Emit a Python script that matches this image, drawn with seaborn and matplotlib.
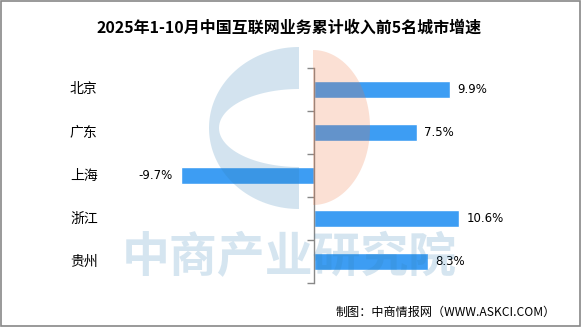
import matplotlib
matplotlib.use("Agg")
import matplotlib.pyplot as plt
import matplotlib.patches as mpatches
import matplotlib.transforms as mtrans
import numpy as np
import seaborn as sns
import pandas as pd

sns.set_theme(style="white")
plt.rcParams['font.family'] = ['Noto Sans CJK SC', 'DejaVu Sans']

cities = ["北京", "广东", "上海", "浙江", "贵州"]
growth = [9.9, 7.5, -9.7, 10.6, 8.3]
title = "2025年1-10月中国互联网业务累计收入前5名城市增速"
source = "制图：中商情报网（WWW.ASKCI.COM）"
watermark = "中商产业研究院"

df = pd.DataFrame({"city": cities, "growth": growth})

W, H = 581, 327
fig = plt.figure(figsize=(W / 100, H / 100), dpi=100)
fig.patch.set_facecolor("white")

ax = fig.add_axes([108.5 / W, 1 - 283 / H, 411 / W, 215 / H])
sns.barplot(data=df, x="growth", y="city", orient="h", color="#3d9df3",
            saturation=1, width=0.4, ax=ax, zorder=2)
ax.set_xlim(-15, 15)
ax.set_ylim(4.5, -0.5)
for s in ["top", "right", "bottom"]:
    ax.spines[s].set_visible(False)
ax.spines["left"].set_position(("data", 0))
ax.spines["left"].set_color("#888888")
ax.spines["left"].set_linewidth(1.0)
ax.set_xticks([])
ax.set_yticks([-0.5 + i for i in range(6)])
ax.set_yticklabels([])
ax.tick_params(axis="y", left=True, length=5, width=1, color="#888888", direction="out")
ax.set_xlabel("")
ax.set_ylabel("")
ax.patch.set_alpha(0)

trans = mtrans.blended_transform_factory(fig.transFigure, ax.transData)
for i, (c, v) in enumerate(zip(cities, growth)):
    ax.text(70 / W, i, c, transform=trans, ha="left", va="center", fontsize=10, color="black")
    if v >= 0:
        ax.text(v + 0.55, i, f"{v}%", ha="left", va="center", fontsize=8.5, color="black",
                family=["DejaVu Sans"])
    else:
        ax.text(v - 0.6, i, f"{v}%", ha="right", va="center", fontsize=8.5, color="black",
                family=["DejaVu Sans"])

fig.text(289 / W, 1 - 28 / H, title, ha="center", va="center", fontsize=11.5,
         fontweight="bold", color="black")
fig.text(556 / W, 1 - 312 / H, source, ha="right", va="center", fontsize=8.7, color="black")

# watermark overlay (semi-transparent, drawn above the bars)
wax = fig.add_axes([0, 0, 1, 1], zorder=5)
wax.set_xlim(0, W)
wax.set_ylim(H, 0)
wax.axis("off")
wax.patch.set_alpha(0)

# peach half-disc
t = np.linspace(-np.pi / 2, np.pi / 2, 80)
px = 313 + 57 * np.cos(t)
py = 127.5 + 77.5 * np.sin(t)
wax.add_patch(mpatches.Polygon(np.column_stack([px, py]), closed=True,
                               facecolor="#ed733e", alpha=0.22, edgecolor="none"))

# blue "C" shape
cx, cy = 299, 128
to = np.linspace(np.pi / 2, 3 * np.pi / 2, 100)
ox = cx + 90 * np.cos(to)
oy = cy - 81 * np.sin(to)
ti = np.linspace(3 * np.pi / 2, np.pi / 2, 100)
ix = cx + 80 * np.cos(ti)
iy = cy - 39 * np.sin(ti)
cxs = np.concatenate([ox, ix])
cys = np.concatenate([oy, iy])
wax.add_patch(mpatches.Polygon(np.column_stack([cxs, cys]), closed=True,
                               facecolor="#307fb4", alpha=0.21, edgecolor="none"))

wax.text(289, 258, watermark, ha="center", va="center", fontsize=34.5, fontweight="bold",
         color="#307fb4", alpha=0.2)

border = mpatches.Rectangle((0.5, 0.5), W - 1.5, H - 1.5, fill=False, edgecolor="#888888",
                            linewidth=1.2)
wax.add_patch(border)

fig.savefig("out.png", dpi=100, facecolor="white")
